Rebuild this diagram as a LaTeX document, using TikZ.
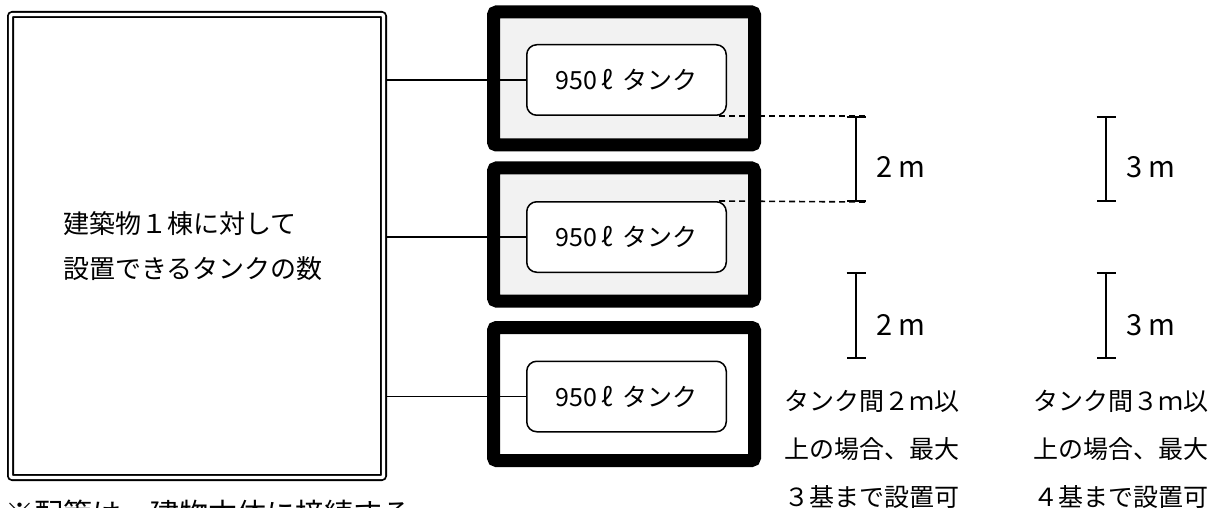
\documentclass[tikz,border=0pt]{standalone}
\usepackage{fontspec}
\setmainfont{Noto Sans CJK JP}
\usepackage{xcolor}
\usetikzlibrary{positioning}
\usetikzlibrary{arrows.meta}

\definecolor{framefill}{HTML}{F2F2F2}

\tikzset{
  bldg/.style={draw, line width=1.8pt, double, double distance=3.4pt,
    rounded corners=2pt, minimum width=373pt, minimum height=463pt,
    inner sep=0pt, outer sep=3.4pt},
  bldgtext/.style={align=left, inner sep=0pt, font=\fontsize{26}{45}\selectfont},
  tankframe/.style={draw, line width=13pt, rounded corners=3pt,
    minimum width=261pt, minimum height=133pt},
  tank/.style={draw, line width=1.5pt, rounded corners=10pt, fill=white,
    minimum width=199.5pt, minimum height=70.5pt, inner sep=0pt,
    font=\fontsize{25}{30}\selectfont},
  pipe/.style={line width=1.5pt},
  gapline/.style={line width=1.6pt, dash pattern=on 6pt off 4pt},
  dimbar/.style={line width=1.8pt, {Bar[width=19pt]}-{Bar[width=19pt]}},
  dimtext/.style={anchor=west, inner sep=0pt, font=\fontsize{29}{30}\selectfont},
  ruletext/.style={align=center, inner sep=0pt, font=\fontsize{25}{48}\selectfont},
  notetext/.style={anchor=base west, inner sep=0pt, font=\fontsize{29}{30}\selectfont}
}

\begin{document}
\begin{tikzpicture}[x=1pt,y=-1pt]
\useasboundingbox (0,0) rectangle (1224,508);
% building
\node[bldg] (bldg) at (197,246) {};
\node[bldgtext] (bldglabel) at (193,246) {建築物１棟に対して\\設置できるタンクの数};
% tanks
\node[tankframe, fill=framefill] (frame1) at (624,78.5) {};
\node[tankframe, fill=framefill] (frame2) at (624,234.5) {};
\node[tankframe, fill=white] (frame3) at (624,394) {};
\node[tank] (tank1) at (626.5,80) {950\hspace{4pt}ℓ\hspace{9pt}タンク};
\node[tank] (tank2) at (626.5,237) {950\hspace{4pt}ℓ\hspace{9pt}タンク};
\node[tank] (tank3) at (626.5,396.5) {950\hspace{4pt}ℓ\hspace{9pt}タンク};
\draw[pipe] (bldg.east |- tank1) -- (tank1.west);
\draw[pipe] (bldg.east |- tank2) -- (tank2.west);
\draw[pipe] (bldg.east |- tank3) -- (tank3.west);
% gap between tanks
\coordinate (gaptop) at (866,116);
\coordinate (gapbot) at (866,202);
\draw[gapline] ([xshift=-8pt]tank1.south east) -- (gaptop);
\draw[gapline] ([xshift=-8pt]tank2.north east) -- (gapbot);
% dimensions
\coordinate (dimA1) at (856,116);
\coordinate (dimA2) at (856,202);
\coordinate (dimB1) at (1106,116);
\coordinate (dimB2) at (1106,202);
\coordinate (dimC1) at (856,272);
\coordinate (dimC2) at (856,359);
\coordinate (dimD1) at (1106,272);
\coordinate (dimD2) at (1106,359);
\draw[dimbar] (dimA1) -- (dimA2);
\draw[dimbar] (dimB1) -- (dimB2);
\draw[dimbar] (dimC1) -- (dimC2);
\draw[dimbar] (dimD1) -- (dimD2);
\node[dimtext] (lenA) at (876,167) {2 m};
\node[dimtext] (lenB) at (1126,167) {3 m};
\node[dimtext] (lenC) at (876,325) {2 m};
\node[dimtext] (lenD) at (1126,325) {3 m};
\node[ruletext] (ruleA) at (872,449) {タンク間２ｍ以\\上の場合、最大\\３基まで設置可};
\node[ruletext] (ruleB) at (1121,449) {タンク間３ｍ以\\上の場合、最大\\４基まで設置可};
% note, cut by the page edge
\node[notetext] (note) at (5,524) {※配管は、建物本体に接続する};
\end{tikzpicture}
\end{document}
